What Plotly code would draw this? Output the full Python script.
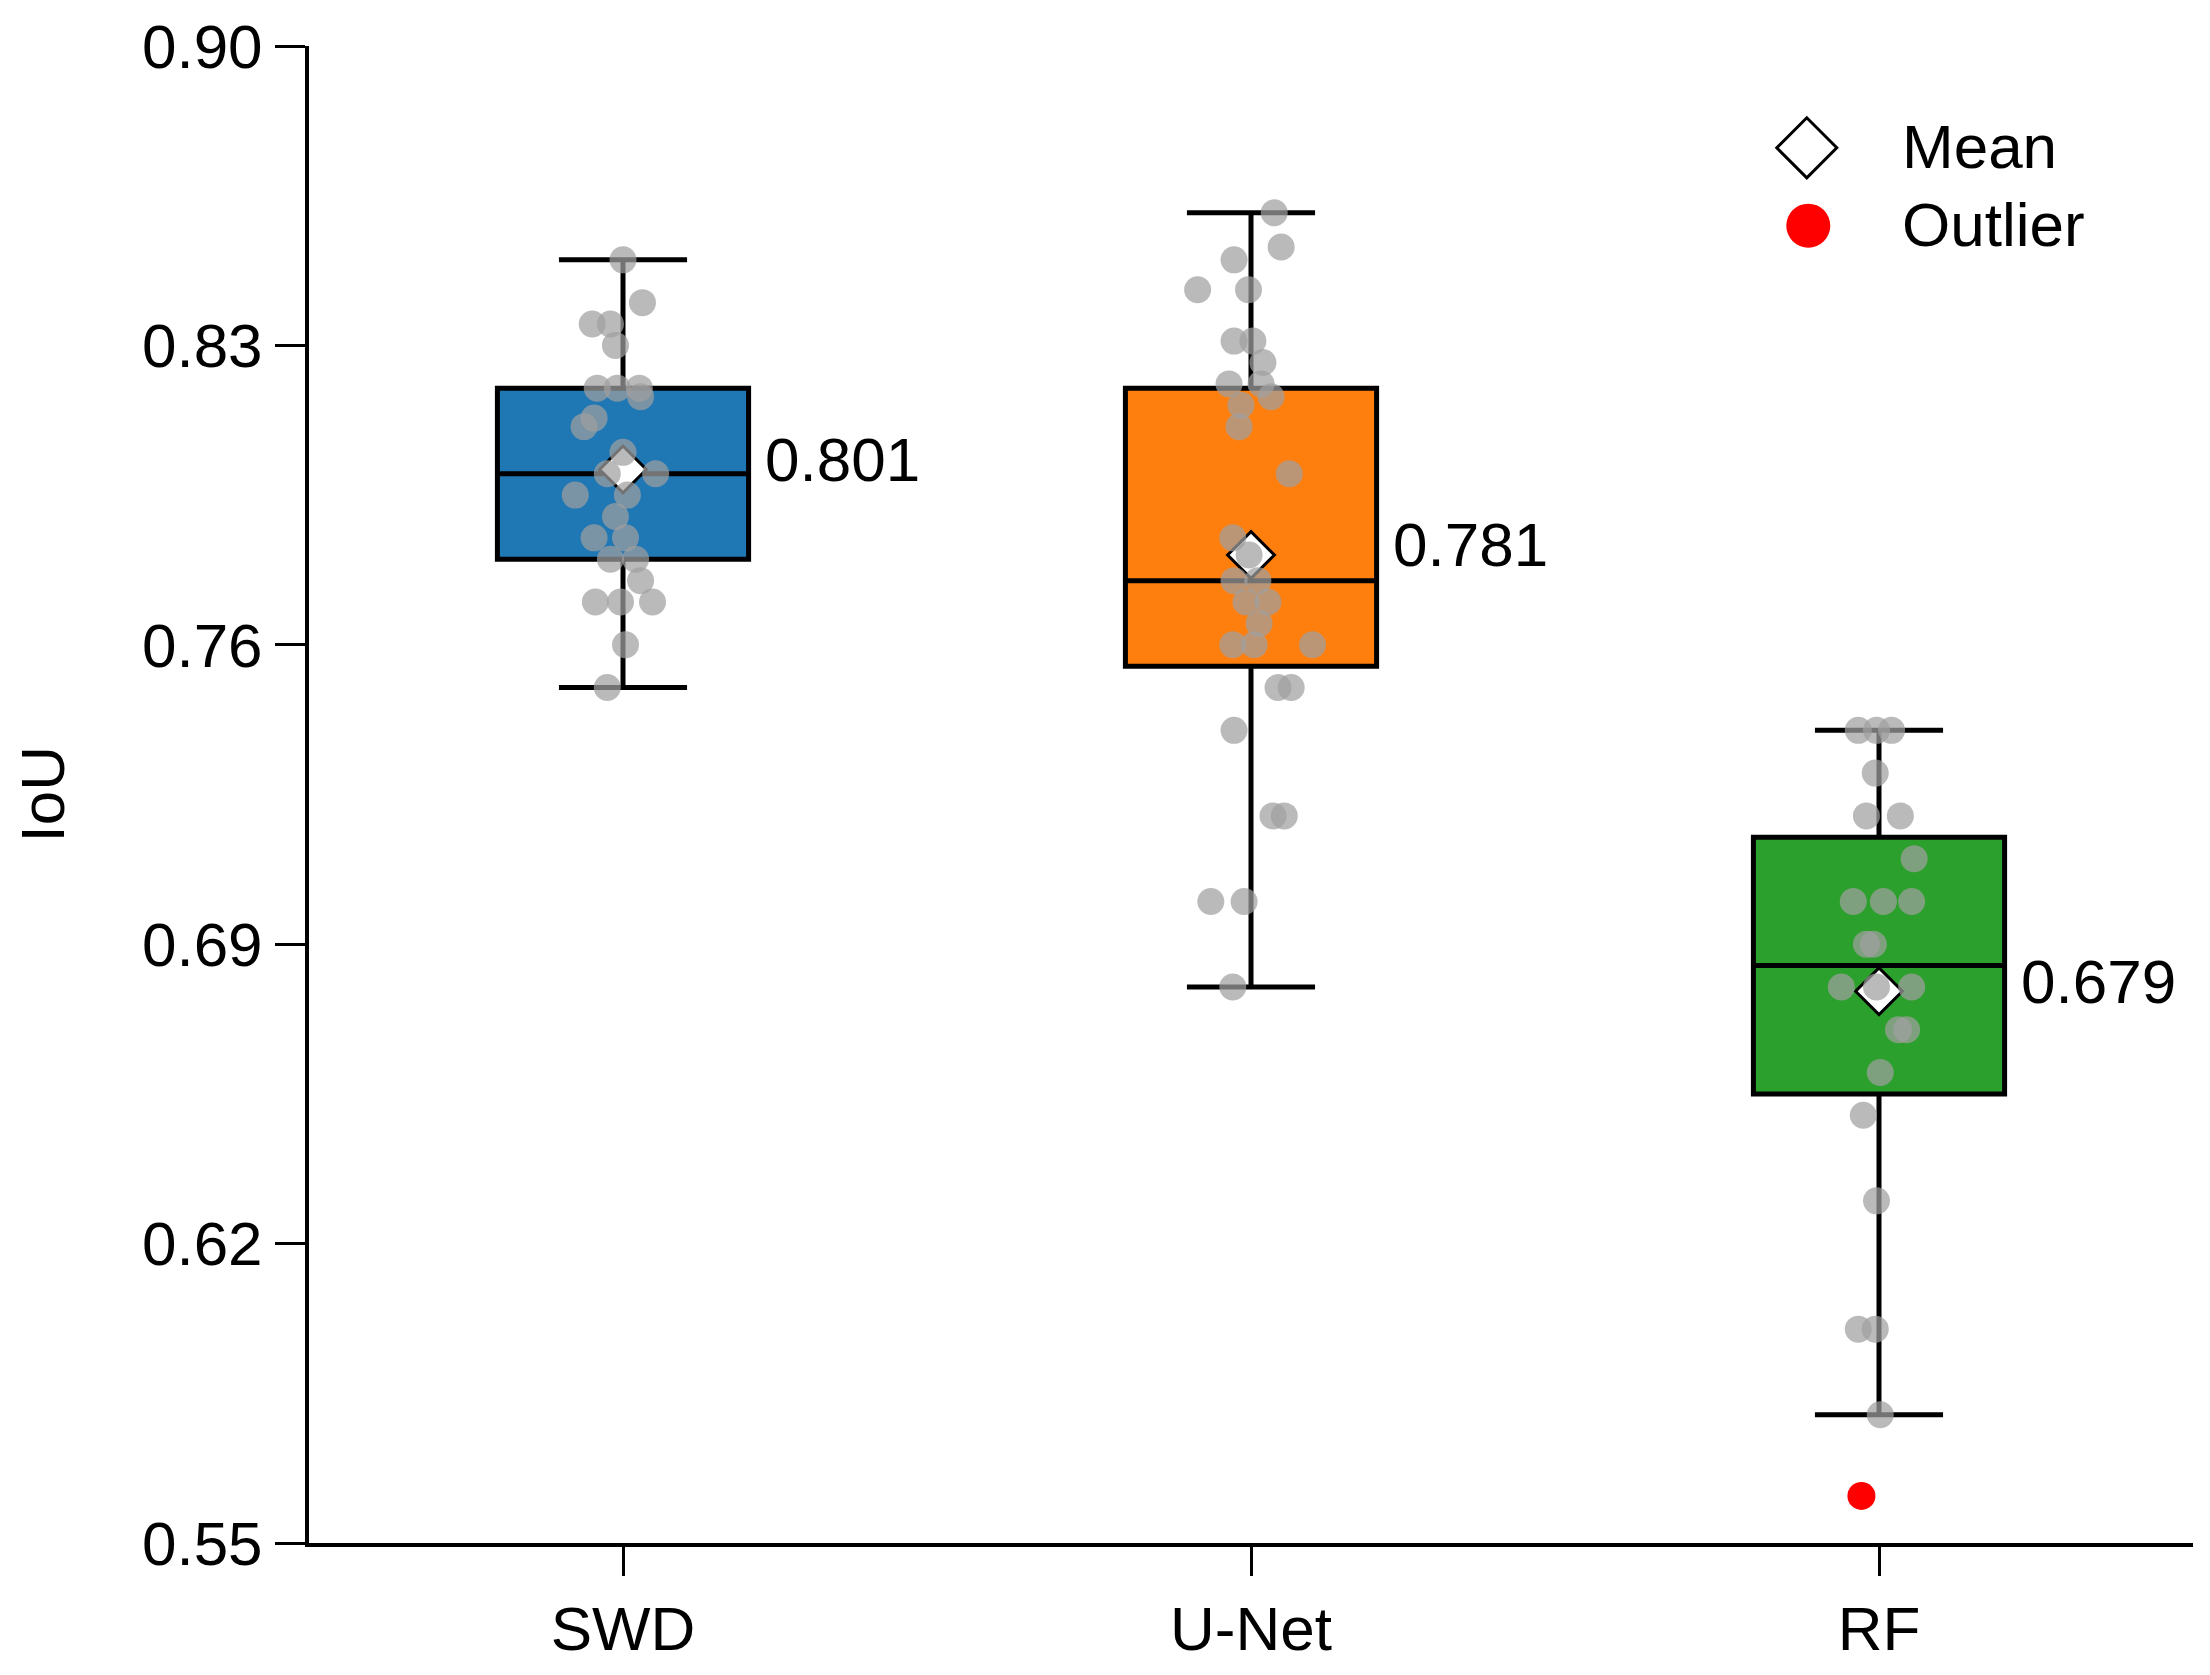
import plotly.graph_objects as go

# ---------------- data ----------------
categories = ["SWD", "U-Net", "RF"]
box_colors = ["#1f77b4", "#ff7f0e", "#2ca02c"]

q1 = [0.780, 0.755, 0.655]
median = [0.800, 0.775, 0.685]
q3 = [0.820, 0.820, 0.715]
lower_fence = [0.750, 0.680, 0.580]
upper_fence = [0.850, 0.861, 0.740]
means = [0.801, 0.781, 0.679]
mean_labels = ["0.801", "0.781", "0.679"]

pts_swd = [0.850, 0.840, 0.835, 0.835, 0.830, 0.820, 0.820, 0.820, 0.818, 0.813,
           0.811, 0.805, 0.800, 0.800, 0.795, 0.795, 0.790, 0.785, 0.785, 0.780,
           0.780, 0.775, 0.770, 0.770, 0.770, 0.760, 0.750]
jit_swd = [0.000, 0.031, -0.049, -0.020, -0.012, -0.041, -0.009, 0.026, 0.028, -0.046,
           -0.062, 0.000, -0.025, 0.052, -0.076, 0.007, -0.012, -0.046, 0.004, -0.020,
           0.020, 0.028, -0.044, -0.004, 0.047, 0.004, -0.025]

pts_unet = [0.861, 0.853, 0.850, 0.843, 0.843, 0.831, 0.831, 0.826, 0.821, 0.821,
            0.818, 0.816, 0.811, 0.800, 0.785, 0.781, 0.775, 0.775, 0.770, 0.770,
            0.765, 0.760, 0.760, 0.760, 0.750, 0.750, 0.740, 0.720, 0.720, 0.700,
            0.700, 0.680]
jit_unet = [0.037, 0.048, -0.027, -0.085, -0.004, -0.027, 0.003, 0.019, -0.035, 0.016,
            0.032, -0.016, -0.019, 0.061, -0.029, -0.003, -0.027, 0.011, -0.008, 0.027,
            0.013, -0.029, 0.005, 0.098, 0.043, 0.064, -0.027, 0.035, 0.053, -0.064,
            -0.011, -0.029]

pts_rf = [0.740, 0.740, 0.740, 0.730, 0.720, 0.720, 0.710, 0.700, 0.700, 0.700,
          0.690, 0.690, 0.680, 0.680, 0.680, 0.670, 0.670, 0.660, 0.650, 0.630,
          0.600, 0.600, 0.580]
jit_rf = [-0.033, -0.004, 0.020, -0.006, -0.020, 0.034, 0.056, -0.041, 0.007, 0.052,
          -0.020, -0.009, -0.060, -0.004, 0.052, 0.031, 0.044, 0.002, -0.025, -0.004,
          -0.033, -0.006, 0.002]

outlier_cat = [2]
outlier_val = [0.561]
outlier_jit = [-0.028]

yticks = [0.55, 0.62, 0.69, 0.76, 0.83, 0.90]

points = [pts_swd, pts_unet, pts_rf]
jitters = [jit_swd, jit_unet, jit_rf]

# ---------------- figure ----------------
FONT = "Liberation Sans, Arial, sans-serif"
FS = 62
BOX_W = 0.4

fig = go.Figure()

for i, cat in enumerate(categories):
    fig.add_trace(go.Box(
        x=[i], q1=[q1[i]], median=[median[i]], q3=[q3[i]],
        lowerfence=[lower_fence[i]], upperfence=[upper_fence[i]],
        width=BOX_W, whiskerwidth=0.51,
        fillcolor=box_colors[i], line=dict(color="black", width=5),
        boxpoints=False, showlegend=False, hoverinfo="skip",
    ))

# means (diamonds)
fig.add_trace(go.Scatter(
    x=list(range(len(categories))), y=means, mode="markers",
    marker=dict(symbol="diamond", size=36, color="white",
                line=dict(color="black", width=3)),
    showlegend=False, hoverinfo="skip",
))

# jittered points
for i in range(len(categories)):
    fig.add_trace(go.Scatter(
        x=[i + j for j in jitters[i]], y=points[i], mode="markers",
        marker=dict(size=27, color="rgba(160,160,160,0.72)", line=dict(width=0)),
        showlegend=False, hoverinfo="skip",
    ))

# outlier
fig.add_trace(go.Scatter(
    x=[c + j for c, j in zip(outlier_cat, outlier_jit)], y=outlier_val, mode="markers",
    marker=dict(size=28, color="#ff0000", line=dict(width=0)),
    showlegend=False, hoverinfo="skip",
))

# mean value labels
for i in range(len(categories)):
    fig.add_annotation(
        x=i + BOX_W / 2, y=means[i], text=mean_labels[i], showarrow=False,
        xanchor="left", yanchor="middle", xshift=14, yshift=10,
        font=dict(family=FONT, size=FS, color="black"),
    )

# y axis title
fig.add_annotation(
    x=-0.1417, y=0.5, xref="paper", yref="paper", text="IoU", textangle=-90,
    showarrow=False, xanchor="center", yanchor="middle",
    font=dict(family=FONT, size=FS, color="black"),
)

# manual legend
fig.add_shape(type="path", xref="paper", yref="paper",
              xsizemode="pixel", ysizemode="pixel", xanchor=0.795, yanchor=0.932,
              path="M -30 0 L 0 30 L 30 0 L 0 -30 Z",
              fillcolor="white", line=dict(color="black", width=3))
fig.add_shape(type="circle", xref="paper", yref="paper",
              xsizemode="pixel", ysizemode="pixel", xanchor=0.7958, yanchor=0.880,
              x0=-22, x1=22, y0=-22, y1=22,
              fillcolor="#ff0000", line=dict(color="#ff0000", width=0))
fig.add_annotation(x=0.8445, y=0.9328, xref="paper", yref="paper", text="Mean",
                   showarrow=False, xanchor="left", yanchor="middle",
                   font=dict(family=FONT, size=FS, color="black"))
fig.add_annotation(x=0.8445, y=0.8807, xref="paper", yref="paper", text="Outlier",
                   showarrow=False, xanchor="left", yanchor="middle",
                   font=dict(family=FONT, size=FS, color="black"))

fig.update_layout(
    width=2210, height=1675,
    margin=dict(l=309, r=17, t=42, b=125, pad=0),
    paper_bgcolor="white", plot_bgcolor="white",
    font=dict(family=FONT, size=FS, color="black"),
    showlegend=False,
)
fig.update_xaxes(
    range=[-0.5, 2.5], tickvals=list(range(len(categories))), ticktext=categories,
    showgrid=False, zeroline=False, showline=True, linecolor="black", linewidth=4,
    ticks="outside", ticklen=29, tickwidth=3, tickcolor="black",
    tickfont=dict(family=FONT, size=FS, color="black"),
)
fig.update_yaxes(
    range=[0.55, 0.90], tickvals=yticks, ticktext=[f"{v:.2f}" for v in yticks],
    showgrid=False, zeroline=False, showline=True, linecolor="black", linewidth=4,
    ticks="outside", ticklen=30, tickwidth=3, tickcolor="black",
    tickfont=dict(family=FONT, size=FS, color="black"),
)

fig.write_html("out.html")
